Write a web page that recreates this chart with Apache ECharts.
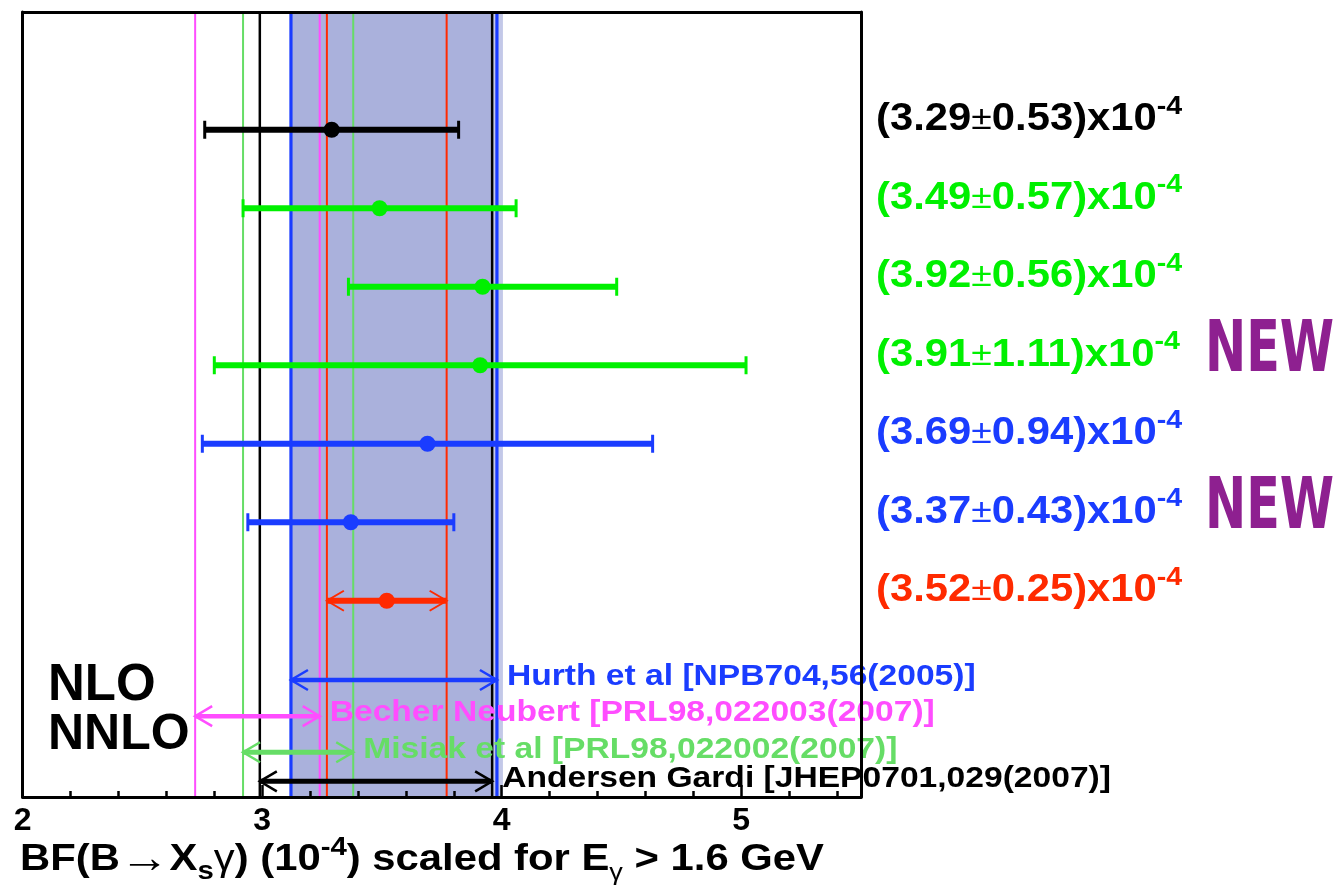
<!DOCTYPE html>
<html>
<head>
<meta charset="utf-8">
<script src="https://cdn.jsdelivr.net/npm/echarts@6/dist/echarts.min.js"></script>
<style>
  html, body { margin: 0; padding: 0; background: #ffffff; }
  #chart { width: 1339px; height: 896px; }
</style>
</head>
<body>
<div id="chart"></div>
<script>
// ---- data ----
const xTicks = [2, 3, 4, 5];
const minorTicks = [2.2, 2.4, 2.6, 2.8, 3.2, 3.4, 3.6, 3.8, 4.2, 4.4, 4.6, 4.8, 5.2, 5.4];

// measurements, top to bottom (last one is the average)
const measCentral = [3.29, 3.49, 3.92, 3.91, 3.69, 3.37, 3.52];
const measError   = [0.53, 0.57, 0.56, 1.11, 0.94, 0.43, 0.25];
const measIsNew   = [false, false, false, true, false, true, false];
const averageIndex = 6;

// theory predictions (NLO / NNLO)
const theoryNames = [
  'Hurth et al [NPB704,56(2005)]',
  'Becher Neubert [PRL98,022003(2007)]',
  'Misiak et al [PRL98,022002(2007)]',
  'Andersen Gardi [JHEP0701,029(2007)]'
];
const theoryLow  = [3.12, 2.72, 2.92, 2.99];
const theoryHigh = [3.98, 3.24, 3.38, 3.96];

// shaded band
const bandRange = [3.12, 3.96];
const bandEdge  = [3.96, 4.005];

// ---- styles ----
const FONT = "'Liberation Sans', Arial, Helvetica, sans-serif";
const measColors = ['#000000', '#00f000', '#00f000', '#00f000', '#1a3cff', '#1a3cff', '#ff2a00'];
const theoryColors = ['#1a3cff', '#ff4dff', '#66dd66', '#000000'];
const theoryArrowWidth = [4.5, 4.5, 5, 5];
const theoryVLineWidth = [3.2, 2, 2, 2.5];
const theoryRows = [8.51, 8.97, 9.43, 9.80];
const newColor = '#8e2090';
const bandColor = '#aab1dc';
const bandEdgeColor = '#c3c8e8';

const measRow = i => i + 1.5;

// vertical reference lines: [x, color, width]
const vLines = [];
theoryLow.forEach((v, i) => {
  vLines.push([v, theoryColors[i], theoryVLineWidth[i]]);
  vLines.push([theoryHigh[i], theoryColors[i], theoryVLineWidth[i]]);
});
vLines.push([measCentral[averageIndex] - measError[averageIndex], measColors[averageIndex], 2]);
vLines.push([measCentral[averageIndex] + measError[averageIndex], measColors[averageIndex], 2]);
// draw order: thin lines first, blue last
const vLinesOrdered = [2, 4, 6, 1, 3, 8, 9, 5, 7, 0].map(k => vLines[k]);

function arrowHead(tipX, y, dir, len, half, color, w) {
  return {
    type: 'polyline',
    shape: { points: [[tipX + dir * len, y - half], [tipX, y], [tipX + dir * len, y + half]] },
    style: { stroke: color, lineWidth: w, fill: null }
  };
}

const chart = echarts.init(document.getElementById('chart'), null, { renderer: 'canvas' });

const frameAxis = {
  type: 'value', min: 2, max: 5.5, z: 10,
  axisLine: { show: true, onZero: false, lineStyle: { color: '#000', width: 3 } },
  axisTick: { show: false }, axisLabel: { show: false }, splitLine: { show: false }
};
const frameYAxis = {
  type: 'value', min: 0, max: 10, inverse: true, z: 10,
  axisLine: { show: true, onZero: false, lineStyle: { color: '#000', width: 3 } },
  axisTick: { show: false }, axisLabel: { show: false }, splitLine: { show: false }
};

chart.setOption({
  animation: false,
  backgroundColor: '#ffffff',
  grid: { left: 22.7, right: 478, top: 12, bottom: 99, containLabel: false },
  xAxis: [
    {
      type: 'value', min: 2, max: 5.5, position: 'bottom', z: 10,
      axisLine: { show: true, onZero: false, lineStyle: { color: '#000', width: 3 } },
      axisTick: { show: true, inside: true, length: 12, customValues: xTicks, lineStyle: { color: '#000', width: 2.5 } },
      axisLabel: {
        customValues: xTicks, color: '#000', fontSize: 32, fontWeight: 'bold', fontFamily: FONT, margin: 8,
        formatter: v => String(v)
      },
      splitLine: { show: false }
    },
    {
      type: 'value', min: 2, max: 5.5, position: 'bottom', z: 10,
      axisLine: { show: false, onZero: false },
      axisTick: { show: true, inside: true, length: 6, customValues: minorTicks, lineStyle: { color: '#000', width: 2.5 } },
      axisLabel: { show: false }, splitLine: { show: false }
    },
    Object.assign({ position: 'top' }, frameAxis)
  ],
  yAxis: [
    Object.assign({ position: 'left' }, frameYAxis),
    Object.assign({ position: 'right' }, frameYAxis)
  ],
  series: [
    // shaded band
    {
      type: 'custom', z: 1, silent: true,
      data: [[bandRange[0], bandRange[1], 0], [bandEdge[0], bandEdge[1], 1]],
      encode: { x: [0, 1] },
      renderItem(params, api) {
        const a = api.coord([api.value(0), 0]);
        const b = api.coord([api.value(1), 10]);
        return {
          type: 'rect',
          shape: { x: a[0], y: a[1], width: b[0] - a[0], height: b[1] - a[1] },
          style: { fill: api.value(2) === 0 ? bandColor : bandEdgeColor }
        };
      }
    },
    // vertical reference lines
    {
      type: 'custom', z: 2, silent: true,
      data: vLinesOrdered.map(d => [d[0]]),
      encode: { x: 0 },
      renderItem(params, api) {
        const d = vLinesOrdered[params.dataIndex];
        const a = api.coord([d[0], 0]);
        const b = api.coord([d[0], 10]);
        return {
          type: 'line',
          shape: { x1: a[0], y1: a[1], x2: b[0], y2: b[1] },
          style: { stroke: d[1], lineWidth: d[2] }
        };
      }
    },
    // measurements with error bars and value labels
    {
      type: 'custom', z: 5, silent: true,
      data: measCentral.map((v, i) => [v, measRow(i)]),
      encode: { x: 0, y: 1 },
      renderItem(params, api) {
        const i = params.dataIndex;
        const c = measCentral[i], e = measError[i], y = measRow(i);
        const col = measColors[i];
        const pL = api.coord([c - e, y]);
        const pR = api.coord([c + e, y]);
        const pC = api.coord([c, y]);
        const cs = params.coordSys;
        const children = [
          { type: 'line', shape: { x1: pL[0], y1: pL[1], x2: pR[0], y2: pR[1] }, style: { stroke: col, lineWidth: 6 } }
        ];
        if (i === averageIndex) {
          children.push(arrowHead(pL[0], pL[1], 1, 17, 10, col, 2));
          children.push(arrowHead(pR[0], pR[1], -1, 17, 10, col, 2));
        } else {
          children.push({ type: 'line', shape: { x1: pL[0], y1: pL[1] - 9, x2: pL[0], y2: pL[1] + 9 }, style: { stroke: col, lineWidth: 3 } });
          children.push({ type: 'line', shape: { x1: pR[0], y1: pR[1] - 9, x2: pR[0], y2: pR[1] + 9 }, style: { stroke: col, lineWidth: 3 } });
        }
        children.push({ type: 'circle', shape: { cx: pC[0], cy: pC[1], r: 8 }, style: { fill: col } });
        children.push({
          type: 'text', x: cs.x + cs.width + 15, y: pC[1] - 10, scaleX: 1.1,
          style: {
            text: '{m|(' + c.toFixed(2) + '}{p|±}{m|' + e.toFixed(2) + ')x10}{s|-4}',
            textVerticalAlign: 'middle', textAlign: 'left',
            rich: {
              m: { fill: col, fontSize: 38, fontWeight: 'bold', fontFamily: FONT, lineHeight: 52 },
              p: { fill: col, fontSize: 34, fontWeight: 'normal', fontFamily: FONT, lineHeight: 52 },
              s: { fill: col, fontSize: 26, fontWeight: 'bold', fontFamily: FONT, lineHeight: 26, verticalAlign: 'top' }
            }
          }
        });
        if (measIsNew[i]) {
          children.push({
            type: 'text', x: cs.x + cs.width + 344, y: pC[1] - 13, scaleX: 0.76,
            style: {
              text: 'NEW', fill: newColor, textVerticalAlign: 'middle', textAlign: 'left',
              font: "bold 72px 'DejaVu Sans Condensed', 'DejaVu Sans', sans-serif"
            }
          });
        }
        return { type: 'group', children };
      }
    },
    // theory ranges drawn as double arrows with references
    {
      type: 'custom', z: 6, silent: true,
      data: theoryLow.map((v, i) => [v, theoryHigh[i], theoryRows[i]]),
      encode: { x: [0, 1], y: 2 },
      renderItem(params, api) {
        const i = params.dataIndex;
        const col = theoryColors[i];
        const pL = api.coord([theoryLow[i], theoryRows[i]]);
        const pR = api.coord([theoryHigh[i], theoryRows[i]]);
        return {
          type: 'group',
          children: [
            { type: 'line', shape: { x1: pL[0], y1: pL[1], x2: pR[0], y2: pR[1] }, style: { stroke: col, lineWidth: theoryArrowWidth[i] } },
            arrowHead(pL[0], pL[1], 1, 17, 10, col, 2.5),
            arrowHead(pR[0], pR[1], -1, 17, 10, col, 2.5),
            {
              type: 'text', x: pR[0] + 10, y: pR[1] - 3, scaleX: 1.12,
              style: {
                text: theoryNames[i], fill: col, textVerticalAlign: 'middle', textAlign: 'left',
                font: 'bold 30px ' + FONT
              }
            }
          ]
        };
      }
    }
  ],
  graphic: [
    {
      type: 'text', left: 48, top: 660, z: 20,
      style: { text: 'NLO', fill: '#000', font: 'bold 51px ' + FONT }
    },
    {
      type: 'text', left: 48, top: 710, z: 20,
      style: { text: 'NNLO', fill: '#000', font: 'bold 50px ' + FONT }
    },
    {
      type: 'text', left: 20, top: 835, z: 20, scaleX: 1.13,
      style: {
        text: '{b|BF(B}{a|→}{b|X}{sb|s}{g|γ}{b|) (10}{sp|-4}{b|) scaled for E}{gs|γ}{b| > 1.6 GeV}',
        rich: {
          b:  { fill: '#000', fontSize: 37, fontWeight: 'bold', fontFamily: FONT, lineHeight: 50 },
          a:  { fill: '#000', fontSize: 44, fontWeight: 'normal', fontFamily: FONT, lineHeight: 50 },
          g:  { fill: '#000', fontSize: 37, fontWeight: 'normal', fontFamily: FONT, lineHeight: 50 },
          sb: { fill: '#000', fontSize: 26, fontWeight: 'bold', fontFamily: FONT, lineHeight: 40, verticalAlign: 'bottom' },
          gs: { fill: '#000', fontSize: 24, fontWeight: 'normal', fontFamily: FONT, lineHeight: 34, verticalAlign: 'bottom' },
          sp: { fill: '#000', fontSize: 26, fontWeight: 'bold', fontFamily: FONT, lineHeight: 26, verticalAlign: 'top' }
        }
      }
    }
  ]
});
</script>
</body>
</html>
